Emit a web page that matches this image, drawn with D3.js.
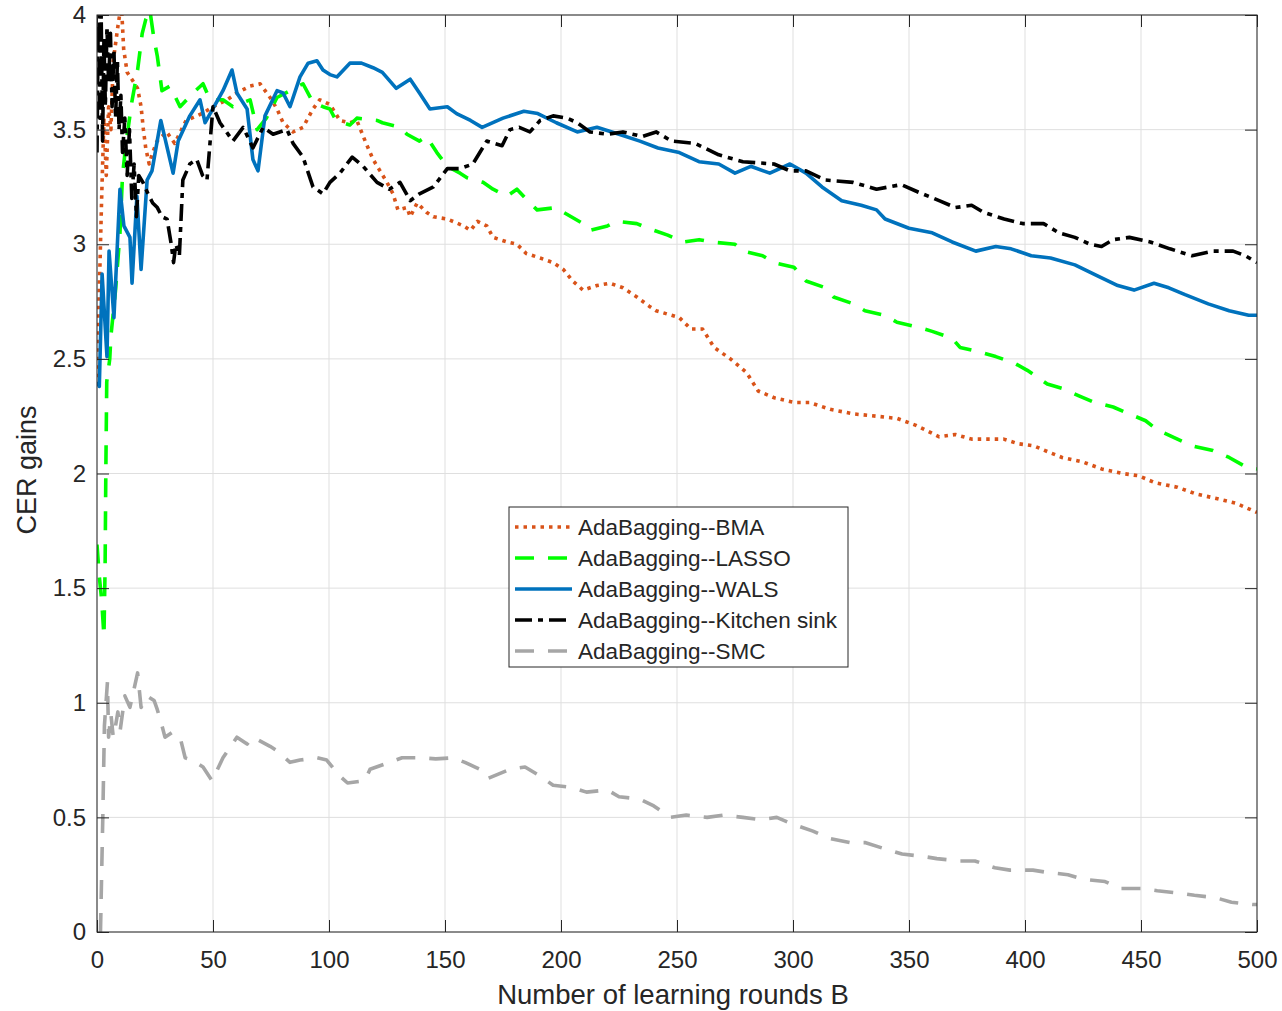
<!DOCTYPE html>
<html lang="en">
<head>
<meta charset="UTF-8">
<title>CER gains</title>
<script src="https://cdn.jsdelivr.net/npm/d3@7"></script>
<style>
  * { margin: 0; padding: 0; }
  html, body { overflow: hidden; background: #fff; }
  text { font-family: "Liberation Sans", Arial, sans-serif; fill: #262626; }
</style>
</head>
<body>
<div id="chart"></div>
<script>
// [B, gain]
const bmaData = [[0,2.42],[1,2.8],[2,3.2],[3,3.55],[4,3.3],[5,3.6],[6,3.5],[7,3.8],[9,3.95],[10.5,4.05],[11.5,3.85],[13,3.75],[15,3.72],[17.5,3.68],[19,3.6],[20,3.5],[21,3.42],[22.5,3.35],[24,3.4],[25.9,3.45],[30,3.49],[33.5,3.44],[38.4,3.54],[45.3,3.57],[50,3.6],[56,3.63],[60.3,3.66],[66,3.69],[70.3,3.7],[74.6,3.64],[77.6,3.59],[80.2,3.53],[84.5,3.49],[88.8,3.51],[93.1,3.59],[96,3.63],[100.4,3.61],[104.7,3.54],[109,3.53],[112,3.54],[116,3.44],[119,3.37],[122,3.32],[125,3.27],[127.6,3.22],[129.7,3.15],[133.6,3.16],[135,3.12],[138,3.18],[142,3.14],[145,3.12],[151,3.11],[158,3.08],[161,3.06],[164,3.1],[168,3.08],[170.7,3.03],[176.7,3.01],[181,3.0],[185,2.96],[191,2.94],[196.6,2.92],[201,2.89],[205,2.84],[209.5,2.8],[215.5,2.82],[221,2.83],[226.7,2.81],[232.7,2.77],[238,2.73],[241,2.71],[251,2.68],[256,2.63],[261,2.63],[266,2.55],[273,2.5],[280,2.44],[285,2.36],[292,2.33],[300.4,2.31],[307,2.31],[316,2.28],[326,2.26],[336,2.25],[345,2.24],[353,2.21],[363,2.16],[370,2.17],[377,2.15],[384,2.15],[390.8,2.15],[397,2.13],[404,2.12],[411,2.09],[416,2.07],[425,2.05],[433,2.02],[442,2.0],[449,1.99],[456,1.96],[465.7,1.94],[474,1.91],[483,1.89],[491,1.87],[500,1.83]]

const lassoData = [[0,1.69],[1,1.55],[2,1.45],[3,1.29],[3.5,1.6],[3.8,2.0],[4.2,2.4],[5.5,2.5],[6,2.6],[8,2.8],[9.9,3.05],[11,3.3],[12.5,3.44],[15,3.62],[17.5,3.76],[19.5,3.92],[21,3.98],[22.8,4.02],[24.5,3.9],[26,3.82],[28,3.67],[31.5,3.69],[35.8,3.6],[41.4,3.66],[45.7,3.7],[48.7,3.63],[54.3,3.63],[58.6,3.6],[66,3.63],[69,3.5],[73,3.55],[77.6,3.64],[83.2,3.67],[88.8,3.7],[93,3.62],[97.4,3.6],[100.4,3.59],[103,3.54],[109,3.52],[112,3.55],[120.7,3.54],[123,3.53],[130.6,3.51],[133.6,3.48],[139,3.45],[142,3.47],[146.5,3.4],[151,3.34],[156.5,3.31],[159.5,3.29],[166.4,3.27],[170.7,3.24],[176.7,3.21],[181,3.24],[186.6,3.18],[189.7,3.15],[198,3.16],[201,3.14],[209.5,3.09],[212.5,3.06],[220,3.08],[224,3.1],[232.7,3.09],[237.5,3.07],[246,3.04],[252.8,3.01],[259.5,3.02],[264.7,3.01],[275,3.0],[278.4,2.97],[286.9,2.95],[291.8,2.92],[300.4,2.9],[305.6,2.84],[314,2.81],[317.5,2.77],[326,2.74],[331,2.71],[339.7,2.69],[344.8,2.66],[353.3,2.64],[360,2.62],[368.6,2.59],[372,2.55],[380.6,2.53],[387.4,2.51],[395.7,2.48],[401,2.45],[409.6,2.39],[416.4,2.37],[423,2.34],[430,2.31],[438,2.29],[445,2.26],[452,2.23],[457,2.19],[465.7,2.15],[472.4,2.12],[481,2.1],[488,2.07],[495,2.03],[500,2.02]]

const walsData = [[0,2.4],[1,2.38],[2.2,2.87],[4.3,2.51],[5.2,2.97],[7.3,2.68],[9.9,3.24],[11.6,3.08],[14.2,3.03],[15.1,2.83],[17.2,3.21],[19,2.89],[21.6,3.28],[23.7,3.32],[27.5,3.54],[32.8,3.31],[35,3.45],[40,3.56],[44.4,3.63],[46.6,3.53],[54.3,3.67],[58.2,3.76],[60.3,3.66],[64.7,3.59],[67.2,3.37],[69.4,3.32],[72.4,3.56],[77.6,3.67],[80.2,3.66],[83.2,3.6],[87.5,3.73],[91,3.79],[94.8,3.8],[97.4,3.76],[100.4,3.74],[103.4,3.73],[109,3.79],[114,3.79],[119,3.77],[123,3.75],[129,3.68],[135,3.72],[139,3.66],[143.5,3.59],[151,3.6],[155,3.57],[161,3.54],[166,3.51],[175,3.55],[184,3.58],[190,3.57],[198,3.53],[207,3.49],[215.5,3.51],[225,3.48],[234,3.45],[241.8,3.42],[251,3.4],[259.5,3.36],[268,3.35],[275,3.31],[281.8,3.34],[290,3.31],[298.7,3.35],[305.6,3.31],[312.5,3.25],[321,3.19],[329.4,3.17],[336,3.15],[339.7,3.11],[350,3.07],[360,3.05],[368.6,3.01],[378.8,2.97],[387.4,2.99],[394,2.98],[402.7,2.95],[411,2.94],[421.5,2.91],[431.7,2.86],[440,2.82],[447,2.8],[455.6,2.83],[462,2.81],[469,2.78],[479,2.74],[488,2.71],[496.4,2.69],[500,2.69]]

const sinkData = [[0,3.4],[0.6,4.05],[1.2,3.55],[1.8,4.0],[2.4,3.45],[3,3.9],[3.6,3.6],[4.3,3.95],[5,3.7],[5.8,3.92],[6.5,3.6],[7.3,3.85],[8,3.55],[8.8,3.8],[9.5,3.5],[10.3,3.65],[11,3.4],[12,3.55],[13,3.3],[14,3.5],[15,3.2],[16,3.35],[17,3.12],[18,3.3],[19.8,3.27],[22,3.22],[24,3.18],[26,3.16],[28,3.12],[30.2,3.11],[32,3.0],[33,2.92],[34,3.0],[35.5,2.95],[37,3.28],[40,3.35],[43,3.37],[45.5,3.3],[47.4,3.28],[50,3.6],[53,3.53],[58.6,3.45],[63,3.51],[67.2,3.42],[71.6,3.51],[75.9,3.48],[81.9,3.5],[84.5,3.44],[88.8,3.38],[93.1,3.25],[97.4,3.22],[100.4,3.27],[104.7,3.31],[110,3.38],[114.7,3.34],[120.7,3.27],[126,3.24],[130.6,3.27],[135,3.19],[139,3.22],[145,3.25],[151,3.33],[156.5,3.33],[162,3.35],[168,3.45],[174.6,3.43],[178,3.5],[182,3.51],[186.6,3.49],[191,3.54],[196.6,3.56],[202.6,3.55],[207,3.53],[212.5,3.49],[220,3.48],[226.7,3.49],[235,3.47],[241,3.49],[247.7,3.45],[257.8,3.44],[268,3.39],[278.4,3.36],[291.8,3.35],[298.7,3.32],[305.6,3.32],[314,3.28],[325.9,3.27],[336,3.24],[346.6,3.26],[353.4,3.23],[363,3.19],[370,3.16],[377,3.17],[382,3.14],[391,3.11],[399,3.09],[408,3.09],[414.6,3.05],[421.5,3.03],[428,3.0],[433,2.99],[438,3.02],[445,3.03],[454,3.01],[462.5,2.98],[472,2.95],[481,2.97],[489.7,2.97],[495,2.95],[500,2.92]]

const smcData = [[1.5,0],[2.5,0.5],[3.2,0.9],[4.5,1.09],[5,0.85],[6,0.95],[7,0.85],[8,0.9],[9,0.96],[10,0.88],[12,1.03],[14.2,0.98],[17.5,1.13],[19,0.98],[21.5,1.03],[24.6,1.01],[26,0.97],[28,0.9],[29.3,0.85],[32.3,0.87],[35.8,0.85],[38,0.76],[41,0.75],[45.7,0.72],[49.6,0.66],[54.3,0.76],[60.3,0.85],[64.7,0.82],[67.2,0.85],[74.6,0.81],[77.6,0.79],[83.2,0.74],[87.5,0.75],[94.8,0.76],[99,0.75],[104.7,0.68],[108,0.65],[115.5,0.66],[117.7,0.71],[126,0.74],[131.5,0.76],[140.5,0.76],[146,0.755],[153.4,0.76],[158.6,0.74],[165,0.71],[168.5,0.67],[178,0.71],[184.5,0.72],[191,0.68],[196.6,0.64],[205,0.63],[211,0.61],[220,0.62],[225,0.59],[234,0.58],[240,0.55],[247,0.5],[254,0.51],[263,0.5],[270,0.51],[278.4,0.5],[285.8,0.49],[293,0.5],[300,0.47],[308.6,0.44],[315,0.41],[324.6,0.39],[331,0.39],[340.5,0.36],[347,0.34],[356,0.33],[362,0.32],[372,0.31],[378.4,0.31],[387,0.28],[393.5,0.27],[403.4,0.27],[409.5,0.26],[418.5,0.25],[425,0.23],[434.5,0.22],[441,0.19],[450.4,0.19],[457,0.18],[466,0.17],[473,0.16],[482,0.15],[489,0.13],[498,0.12],[500,0.12]]

const seriesNames = ['AdaBagging--BMA', 'AdaBagging--LASSO', 'AdaBagging--WALS', 'AdaBagging--Kitchen sink', 'AdaBagging--SMC']
const xTicks = [0, 50, 100, 150, 200, 250, 300, 350, 400, 450, 500]
const yTicks = [0, 0.5, 1, 1.5, 2, 2.5, 3, 3.5, 4]

function drawChart() {
  const width = 1282
  const height = 1011
  const margin = { left: 97, right: 25, top: 15, bottom: 79 }
  const innerW = width - margin.left - margin.right
  const innerH = height - margin.top - margin.bottom

  const svg = d3.select('#chart')
    .append('svg')
    .attr('width', width)
    .attr('height', height)
    .style('background', '#fff')

  const x = d3.scaleLinear().domain([0, 500]).range([margin.left, margin.left + innerW])
  const y = d3.scaleLinear().domain([0, 4]).range([margin.top + innerH, margin.top])

  // grid
  svg.append('g').selectAll('line')
    .data(xTicks)
    .join('line')
    .attr('x1', d => x(d)).attr('x2', d => x(d))
    .attr('y1', y(0)).attr('y2', y(4))
    .attr('stroke', '#dfdfdf').attr('stroke-width', 1)
  svg.append('g').selectAll('line')
    .data(yTicks)
    .join('line')
    .attr('y1', d => y(d)).attr('y2', d => y(d))
    .attr('x1', x(0)).attr('x2', x(500))
    .attr('stroke', '#dfdfdf').attr('stroke-width', 1)

  // lines
  svg.append('clipPath').attr('id', 'clip')
    .append('rect')
    .attr('x', x(0)).attr('y', y(4))
    .attr('width', innerW).attr('height', innerH)

  const styles = [
    { color: '#D95319', dash: '3.5,5' },
    { color: '#00FF00', dash: '19,14' },
    { color: '#0072BD', dash: null },
    { color: '#000000', dash: '17,6,5,6' },
    { color: '#A6A6A6', dash: '19,14' }
  ]
  const allData = [bmaData, lassoData, walsData, sinkData, smcData]

  const line = d3.line().x(d => x(d[0])).y(d => y(d[1]))

  const plot = svg.append('g').attr('clip-path', 'url(#clip)')
  allData.forEach((data, i) => {
    plot.append('path')
      .datum(data)
      .attr('d', line)
      .attr('fill', 'none')
      .attr('stroke', styles[i].color)
      .attr('stroke-width', 3.6)
      .attr('stroke-linejoin', 'round')
      .attr('stroke-dasharray', styles[i].dash)
  })

  // axes box
  const axisColor = '#262626'
  svg.append('rect')
    .attr('x', x(0)).attr('y', y(4))
    .attr('width', innerW).attr('height', innerH)
    .attr('fill', 'none').attr('stroke', axisColor).attr('stroke-width', 1)

  const tickLen = 12
  const gx = svg.append('g').attr('transform', `translate(0,${y(0)})`)
    .call(d3.axisBottom(x).tickValues(xTicks).tickSize(tickLen))
  gx.select('.domain').remove()
  gx.selectAll('.tick line').attr('y2', -tickLen).attr('stroke', axisColor)
  gx.selectAll('.tick text').attr('y', 36).attr('dy', null)
    .style('font-size', '24px').attr('fill', axisColor)

  const gxTop = svg.append('g').attr('transform', `translate(0,${y(4)})`)
    .call(d3.axisTop(x).tickValues(xTicks).tickSize(-tickLen).tickFormat(''))
  gxTop.select('.domain').remove()
  gxTop.selectAll('.tick line').attr('stroke', axisColor)

  const gy = svg.append('g').attr('transform', `translate(${x(0)},0)`)
    .call(d3.axisLeft(y).tickValues(yTicks).tickSize(-tickLen).tickFormat(d3.format('')))
  gy.select('.domain').remove()
  gy.selectAll('.tick line').attr('stroke', axisColor)
  gy.selectAll('.tick text').attr('x', -11).style('font-size', '24px').attr('fill', axisColor)

  const gyRight = svg.append('g').attr('transform', `translate(${x(500)},0)`)
    .call(d3.axisRight(y).tickValues(yTicks).tickSize(-tickLen).tickFormat(''))
  gyRight.select('.domain').remove()
  gyRight.selectAll('.tick line').attr('stroke', axisColor)

  // axis labels
  svg.append('text')
    .attr('x', 673)
    .attr('y', 1004)
    .attr('text-anchor', 'middle')
    .style('font-size', '27.5px')
    .text('Number of learning rounds B')

  svg.append('text')
    .attr('transform', `translate(36,470) rotate(-90)`)
    .attr('text-anchor', 'middle')
    .style('font-size', '27px')
    .text('CER gains')

  // legend
  const lg = svg.append('g').attr('transform', 'translate(509,507)')
  lg.append('rect')
    .attr('width', 339).attr('height', 160)
    .attr('fill', '#fff').attr('stroke', axisColor).attr('stroke-width', 1)
  seriesNames.forEach((name, i) => {
    const yy = 20 + i * 31
    lg.append('line')
      .attr('x1', 6).attr('x2', 63)
      .attr('y1', yy).attr('y2', yy)
      .attr('stroke', styles[i].color)
      .attr('stroke-width', 3.6)
      .attr('stroke-dasharray', styles[i].dash)
    lg.append('text')
      .attr('x', 69).attr('y', yy)
      .attr('dy', '0.35em')
      .style('font-size', '22.5px')
      .text(name)
  })
}

drawChart()
</script>
</body>
</html>
